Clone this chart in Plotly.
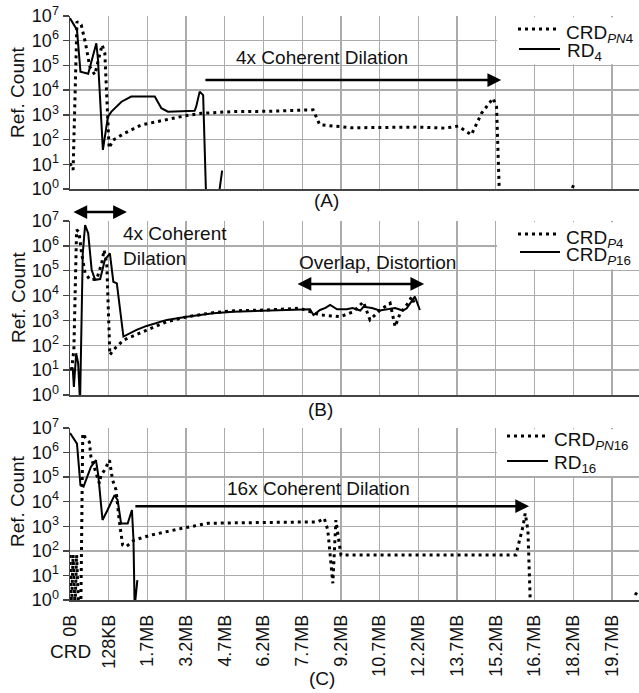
import plotly.graph_objects as go

# ---------------- data ----------------
TICK_LABELS = ["0B", "128KB", "1.7MB", "3.2MB", "4.7MB", "6.2MB", "7.7MB", "9.2MB",
               "10.7MB", "12.2MB", "13.7MB", "15.2MB", "16.7MB", "18.2MB", "19.7MB"]
TICK_POS = list(range(len(TICK_LABELS)))
Y_TICKVALS = [1, 10, 100, 1e3, 1e4, 1e5, 1e6, 1e7]
Y_TICKTEXT = ["10<sup>0</sup>", "10<sup>1</sup>", "10<sup>2</sup>", "10<sup>3</sup>",
              "10<sup>4</sup>", "10<sup>5</sup>", "10<sup>6</sup>", "10<sup>7</sup>"]

# Panel A
A_crd_x = [0, 0.08, 0.18, 0.29, 0.40, 0.51, 0.64, 0.77, 0.83, 0.90, 0.96, 1.01, 1.11, 1.41,
           1.84, 2.45, 2.96, 3.39, 4.17, 5.2, 6.28, 6.45, 7.27, 8.99, 9.68, 10.03, 10.37,
           10.63, 10.93, 11.02, 11.06, 11.10, None, 12.98, 13.02]
A_crd_y = [11, 5.9, 5.9e6, 4.4e6, 8e5, 9e4, 4.2e4, 3.1e5, 6.8e5, 3.1e5, 4e3, 45, 95, 180,
           390, 620, 910, 1150, 1350, 1400, 1600, 400, 300, 320, 290, 350, 155,
           1150, 4700, 2100, 38, 0.3, None, 1.1, 1.6]
A_rd_x = [0, 0.18, 0.27, 0.47, 0.68, 0.72, 0.85, 0.98, 1.07, 1.33, 1.58, 2.19, 2.36, 2.53,
          3.22, 3.26, 3.35, 3.44, 3.52, 3.84, 3.93]
A_rd_y = [8.1e6, 2.75e6, 5.6e4, 4.6e4, 7.9e5, 1.95e5, 38, 850, 1350, 3400, 5500, 5500, 1860,
          1350, 1450, 2150, 8700, 6300, 0.3, 0.5, 5.5]

# Panel B
B_p4_x = [0.04, 0.10, 0.17, 0.23, 0.30, 0.39, 0.52, 0.69, 0.82, 0.88, 0.95, 0.99, 1.03, 1.12,
          1.38, 1.89, 2.5, 3.02, 3.7, 4.22, 5.08, 5.94, 6.46, 6.98, 7.32, 7.58, 7.75, 8.01,
          8.27, 8.4, 8.53, 8.7, 8.83, 8.91]
B_p4_y = [10, 65, 4.4e6, 3.7e6, 5e5, 8e4, 4.3e4, 4.6e4, 2e5, 6.8e5, 2e5, 4.9e3, 41, 65,
          160, 355, 890, 1400, 2050, 2450, 2630, 3090, 1660, 1410, 2240, 5600, 1050, 2630,
          4900, 560, 1950, 4200, 9100, 4200]
B_p16_x = [0, 0.07, 0.10, 0.16, 0.21, 0.26, 0.33, 0.39, 0.47, 0.56, 0.65, 0.78, 0.90, 1.03,
           1.12, 1.21, 1.38, 1.46, 1.72, 1.98, 2.5, 3.02, 3.7, 4.22, 5.08, 6.2, 6.29, 6.35,
           6.46, 6.6, 6.72, 6.9, 7.15, 7.3, 7.5, 7.58, 7.8, 8.0, 8.18, 8.4, 8.6, 8.7, 8.91, 9.04]
B_p16_y = [10, 12, 2.1, 48, 19, 0.5, 5e5, 6.9e6, 3.2e6, 1.07e5, 4.3e4, 4.6e4, 2.7e5, 5e5,
           3.6e4, 3.1e4, 224, 257, 417, 600, 1050, 1400, 1950, 2240, 2400, 2800, 1660, 2000,
           2630, 3200, 4170, 2800, 2820, 3160, 2500, 3550, 3160, 2500, 2820, 3160, 2500,
           3090, 9100, 2630]

# Panel C
C_pn16_x = [0, 0.04, 0.08, 0.13, 0.17, 0.22, 0.28, 0.33, 0.41, 0.50, 0.54, 0.62, 0.76, 0.80,
            0.89, 1.02, 1.10, 1.19, 1.27, 1.36, 1.45, 1.66, 2.09, 2.87, 3.56, 4.25, 6.4,
            6.57, 6.66, 6.79, 6.83, 6.87, 6.92, 7.0, 7.78, 9.07, 11.52, 11.7, 11.76, 11.83,
            11.87, 11.90, None, 14.6, 14.66]
C_pn16_y = [68, 0.5, 68, 0.5, 68, 0.5, 0.5, 6e6, 3.7e6, 2.7e6, 6.8e5, 2.6e5, 5.5e4, 1.2e5,
            1.9e5, 4.9e5, 7.6e4, 3e4, 1.8e3, 174, 148, 275, 436, 813, 1320, 1380, 1510,
            2090, 708, 4.8, 148, 1780, 500, 68, 68, 68, 68, 955, 3310, 708, 1.35, 0.3,
            None, 1.6, 2.2]
C_rd16_x = [0, 0.18, 0.27, 0.35, 0.54, 0.67, 0.73, 0.84, 0.97, 1.15, 1.23, 1.32, 1.49, 1.60,
            1.64, 1.67, 1.74]
C_rd16_y = [6.3e6, 2.3e6, 4.7e4, 4.1e4, 2.6e5, 4.9e5, 1.2e5, 1.8e3, 4.6e3, 1.86e4, 1.17e4,
            1.3e3, 1.3e3, 4.6e3, 275, 0.5, 6.5]

# ---------------- style ----------------
FONT = "Liberation Sans, Arial, sans-serif"
TXT = "#111111"
GRID = "#ababab"
AXLINE = "#444444"
DOT_DASH = "3px,4px"
DOT = dict(color="black", width=3, dash=DOT_DASH)
SOLID = dict(color="black", width=2)

W, H = 639, 693
LEFT, TOP, BOT = 70, 16, 600          # window pixels of the plotting area
PW, PH = W - LEFT, BOT - TOP
def px2x(px):
    return (px - LEFT) / PW
def py2y(py):
    return (BOT - py) / PH

# white area behind legends (covers grid, above it) in axis coordinates
BOX_X = [11.03, 14.9, 14.9, 11.03, 11.03]
BOX_Y = [1.12e5, 1.12e5, 8.9e6, 8.9e6, 1.12e5]

fig = go.Figure()
panels = [
    ("x", "y", A_crd_x, A_crd_y, "CRD<sub><i>PN</i>4</sub>", A_rd_x, A_rd_y, "RD<sub>4</sub>"),
    ("x2", "y2", B_p4_x, B_p4_y, "CRD<sub><i>P</i>4</sub>", B_p16_x, B_p16_y, "CRD<sub><i>P</i>16</sub>"),
    ("x3", "y3", C_pn16_x, C_pn16_y, "CRD<sub><i>PN</i>16</sub>", C_rd16_x, C_rd16_y, "RD<sub>16</sub>"),
]
for xa, ya, dx, dy, dn, sx, sy, sn in panels:
    fig.add_trace(go.Scatter(x=BOX_X, y=BOX_Y, mode="lines", fill="toself", fillcolor="white",
                             line=dict(width=0, color="white"), hoverinfo="skip",
                             showlegend=False, xaxis=xa, yaxis=ya))
    fig.add_trace(go.Scatter(x=dx, y=dy, mode="lines", line=DOT, name=dn,
                             xaxis=xa, yaxis=ya, showlegend=False, connectgaps=False))
    fig.add_trace(go.Scatter(x=sx, y=sy, mode="lines", line=SOLID, name=sn,
                             xaxis=xa, yaxis=ya, showlegend=False, connectgaps=False))

domains = [(py2y(189), py2y(16)), (py2y(395), py2y(221)), (py2y(600), py2y(428))]
for i, (d0, d1) in enumerate(domains):
    s = "" if i == 0 else str(i + 1)
    fig.layout["yaxis" + s] = dict(
        domain=[d0, d1], type="log", range=[0, 7], tickvals=Y_TICKVALS, ticktext=Y_TICKTEXT,
        showgrid=True, gridcolor=GRID, gridwidth=1.3, showline=True, linecolor=AXLINE,
        linewidth=1.5, ticks="outside", ticklen=6, tickwidth=1.3, tickcolor=AXLINE,
        tickfont=dict(family=FONT, size=18, color=TXT),
        anchor="x" + s, zeroline=False, fixedrange=True, automargin=False)
    fig.layout["xaxis" + s] = dict(
        domain=[0, 1], range=[0, 14.7], tickvals=TICK_POS, ticktext=TICK_LABELS,
        showticklabels=(i == 2), tickangle=-90, showgrid=True, gridcolor=GRID, gridwidth=1.3,
        showline=True, linecolor=AXLINE, linewidth=1.5, ticks="", ticklabelstandoff=6,
        tickfont=dict(family=FONT, size=18, color=TXT), anchor="y" + s, zeroline=False,
        fixedrange=True, automargin=False)

ann = []
shapes = []
def arrow(xref, yref, hx, hy, tx, ty, both=False):
    ann.append(dict(xref=xref, yref=yref, axref=xref, ayref=yref, x=hx, y=hy, ax=tx, ay=ty,
                    text="", showarrow=True, arrowhead=2, arrowsize=1.1, arrowwidth=2.5,
                    arrowcolor="black", arrowside="end+start" if both else "end"))
def label(xref, yref, x, y, text, xanchor="center", align="center", size=19):
    ann.append(dict(xref=xref, yref=yref, x=x, y=y, text=text, showarrow=False,
                    xanchor=xanchor, yanchor="middle", align=align,
                    font=dict(family=FONT, size=size, color=TXT)))

# Panel A (annotation y values are log10 on log axes)
arrow("x", "y", 11.14, 4.41, 3.46, 4.41)
label("x", "y", 6.52, 5.34, "4x Coherent Dilation")
# Panel B
ann.append(dict(xref="x2", yref="paper", axref="x2", ayref="pixel", x=1.47, y=py2y(212),
                ax=0.05, ay=0, text="", showarrow=True, arrowhead=2, arrowsize=1.1,
                arrowwidth=2.5, arrowcolor="black", arrowside="end+start"))
label("x2", "y2", 1.32, 6.0, "4x Coherent<br>Dilation", xanchor="left", align="left")
arrow("x2", "y2", 9.15, 4.47, 5.84, 4.47, both=True)
label("x2", "y2", 7.95, 5.35, "Overlap, Distortion")
# Panel C
arrow("x3", "y3", 11.86, 3.82, 1.65, 3.82)
label("x3", "y3", 6.42, 4.55, "16x Coherent Dilation")

# legends drawn by hand: (x0, x1, y of sample, text x, text y, text, dotted?)
LEGEND_ROWS = [
    (518, 556, 29, 564, 34, "CRD<sub><i>PN</i>4</sub>", True),
    (519, 560, 49, 565, 52, "RD<sub>4</sub>", False),
    (518, 556, 234, 564, 239, "CRD<sub><i>P</i>4</sub>", True),
    (520, 560, 252, 564, 256, "CRD<sub><i>P</i>16</sub>", False),
    (507, 545, 436, 552, 441, "CRD<sub><i>PN</i>16</sub>", True),
    (507, 548, 461, 552, 464, "RD<sub>16</sub>", False),
]
for x0, x1, ly, tx, ty, txt, dotted in LEGEND_ROWS:
    shapes.append(dict(type="line", xref="paper", yref="paper", x0=px2x(x0), x1=px2x(x1),
                       y0=py2y(ly), y1=py2y(ly), layer="above",
                       line=dict(color="black", width=3 if dotted else 2,
                                 dash=DOT_DASH if dotted else "solid")))
    label("paper", "paper", px2x(tx), py2y(ty), txt, xanchor="left", align="left")

# panel captions, axis titles
for cap, px, py in [("(A)", 326, 200), ("(B)", 320, 410), ("(C)", 322, 678)]:
    label("paper", "paper", px2x(px), py2y(py), cap)
label("paper", "paper", px2x(70), py2y(651), "CRD")
for py in [92, 297, 501]:
    ann.append(dict(xref="paper", yref="paper", x=px2x(18), y=py2y(py), xanchor="center",
                    yanchor="middle", text="Ref. Count", textangle=-90, showarrow=False,
                    font=dict(family=FONT, size=19, color=TXT)))

fig.update_layout(
    template="none",
    width=W, height=H,
    margin=dict(l=LEFT, r=0, t=TOP, b=H - BOT, pad=0),
    paper_bgcolor="white", plot_bgcolor="white", annotations=ann, shapes=shapes,
    font=dict(family=FONT, size=18, color=TXT), showlegend=False,
)

# remove the page's default 8px body margin so the figure sits at the window origin
fig.write_html("out.html", config={"displayModeBar": False, "staticPlot": True},
               post_script="document.body.style.margin='0px';")
